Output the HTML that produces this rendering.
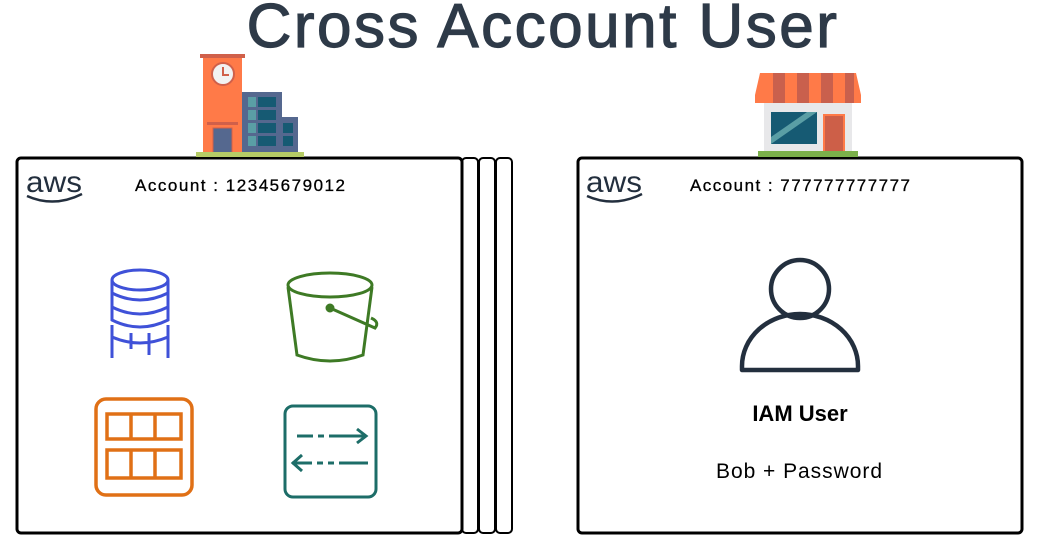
<!DOCTYPE html>
<html><head><meta charset="utf-8"><style>
html,body{margin:0;padding:0;background:#fff;width:1039px;height:541px;overflow:hidden}
svg{display:block}
</style></head><body>
<svg width="1039" height="541" viewBox="0 0 1039 541" xmlns="http://www.w3.org/2000/svg">
<text x="543" y="47" text-anchor="middle" font-family="Liberation Sans, sans-serif" font-size="62" fill="#2e3a48" stroke="#2e3a48" stroke-width="1.2" letter-spacing="2.5">Cross Account User</text>

<!-- stacked panels -->
<rect x="496" y="158" width="16" height="375" rx="4" fill="#fff" stroke="#000" stroke-width="2"/>
<rect x="479" y="158" width="16" height="375" rx="4" fill="#fff" stroke="#000" stroke-width="2"/>
<rect x="462" y="158" width="16" height="375" rx="4" fill="#fff" stroke="#000" stroke-width="2"/>
<rect x="17" y="158" width="445" height="375" rx="4" fill="#fff" stroke="#000" stroke-width="3"/>
<rect x="578" y="158" width="444" height="375" rx="4" fill="#fff" stroke="#000" stroke-width="3"/>

<!-- building left -->
<rect x="200" y="54" width="45" height="4" fill="#d0604a"/>
<rect x="203" y="58" width="39" height="95" fill="#ff7a48"/>
<circle cx="223" cy="74" r="11" fill="#f2f2f2" stroke="#d0604a" stroke-width="2"/>
<path d="M223 67v8h6" stroke="#d0604a" stroke-width="2" fill="none"/>
<rect x="207" y="122" width="31" height="3" fill="#d0604a"/>
<rect x="213" y="128" width="19" height="25" fill="#55688f" stroke="#d0604a" stroke-width="1"/>
<rect x="242" y="92" width="40" height="61" fill="#55688f"/>
<rect x="282" y="117" width="16" height="36" fill="#55688f"/>
<g fill="#5a9ea5"><rect x="248" y="97" width="8" height="10"/><rect x="248" y="110" width="8" height="10"/><rect x="248" y="123" width="8" height="10"/><rect x="248" y="136" width="8" height="10"/></g>
<g fill="#165a73"><rect x="258" y="97" width="18" height="10"/><rect x="258" y="110" width="18" height="10"/><rect x="258" y="123" width="18" height="10"/><rect x="258" y="136" width="18" height="10"/><rect x="283" y="123" width="10" height="10"/><rect x="283" y="136" width="10" height="10"/></g>
<rect x="196" y="152" width="108" height="5" fill="#b6cc66"/>

<!-- store -->
<rect x="764" y="100" width="88" height="52" fill="#e8e8ea"/>
<path d="M760 73h96l5 22v8h-106v-8z" fill="#ff7a48"/>
<g fill="#c9604d"><rect x="773" y="73" width="12" height="30"/><rect x="797" y="73" width="12" height="30"/><rect x="821" y="73" width="12" height="30"/><rect x="845" y="73" width="9" height="30"/></g>
<rect x="771" y="112" width="46" height="32" fill="#165a73"/>
<path d="M771 137l36-25h10l-46 32z" fill="#5a9ea5"/>
<rect x="824" y="115" width="20" height="37" fill="#cd5f48" stroke="#ff7a48" stroke-width="2"/>
<rect x="758" y="151" width="100" height="6" fill="#7bb04a"/>

<!-- aws logos -->
<g font-family="Liberation Sans, sans-serif" fill="#232f3e">
<text x="26" y="192" font-size="30" textLength="56" lengthAdjust="spacingAndGlyphs">aws</text>
<path d="M27 196q27 12 55-2" stroke="#232f3e" stroke-width="2.5" fill="none"/>
<text x="586" y="192" font-size="30" textLength="56" lengthAdjust="spacingAndGlyphs">aws</text>
<path d="M587 196q27 12 55-2" stroke="#232f3e" stroke-width="2.5" fill="none"/>
</g>
<text x="240" y="191" text-anchor="middle" font-family="Liberation Sans, sans-serif" font-size="17" fill="#000" stroke="#000" stroke-width="0.3" textLength="210">Account : 12345679012</text>
<text x="800" y="191" text-anchor="middle" font-family="Liberation Sans, sans-serif" font-size="17" fill="#000" stroke="#000" stroke-width="0.3" textLength="220">Account : 777777777777</text>

<!-- database -->
<g stroke="#3f51d8" stroke-width="3" fill="none">
<ellipse cx="140" cy="280" rx="28" ry="10"/>
<path d="M112 280v40q28 14 56 0v-40"/>
<path d="M112 293q28 14 56 0M112 307q28 14 56 0"/>
<path d="M112 325v33M168 325v33M112 337q28 12 56 0M131 333v16M149 333v22"/>
</g>
<!-- bucket -->
<g stroke="#3e7a25" stroke-width="3" fill="none">
<ellipse cx="330" cy="285" rx="42" ry="12"/>
<path d="M288 287l9 68q33 12 66 0l9-68"/>
<path d="M330 308l45 20q5-6-4-10"/>
<circle cx="330" cy="308" r="3" fill="#3e7a25"/>
</g>
<!-- table -->
<g stroke="#e07016" stroke-width="3.5" fill="none">
<rect x="96" y="399" width="96" height="96" rx="10"/>
<rect x="107" y="414" width="74" height="25"/>
<rect x="107" y="450" width="74" height="28"/>
<path d="M131 414v25M155 414v25M131 450v28M155 450v28"/>
</g>
<!-- arrows -->
<g stroke="#1d6d68" stroke-width="3" fill="none">
<rect x="285" y="406" width="91" height="91" rx="8"/>
<path d="M297 436h16M318 436h6M329 436h20M349 436h17M357 429l9 7-9 7"/>
<path d="M292 463h20M317 463h6M328 463h6M339 463h29M302 455l-9 8 9 8"/>
</g>

<!-- user -->
<g stroke="#232f3e" stroke-width="4.5" fill="none">
<circle cx="800" cy="289" r="29"/>
<path d="M742 370v-4a58 52 0 0 1 116 0v4z" stroke-linejoin="round"/>
</g>
<text x="800" y="421" text-anchor="middle" font-family="Liberation Sans, sans-serif" font-size="22" font-weight="bold" fill="#000">IAM User</text>
<text x="799" y="478" text-anchor="middle" font-family="Liberation Sans, sans-serif" font-size="21" fill="#000" textLength="166">Bob + Password</text>
</svg>
</body></html>
